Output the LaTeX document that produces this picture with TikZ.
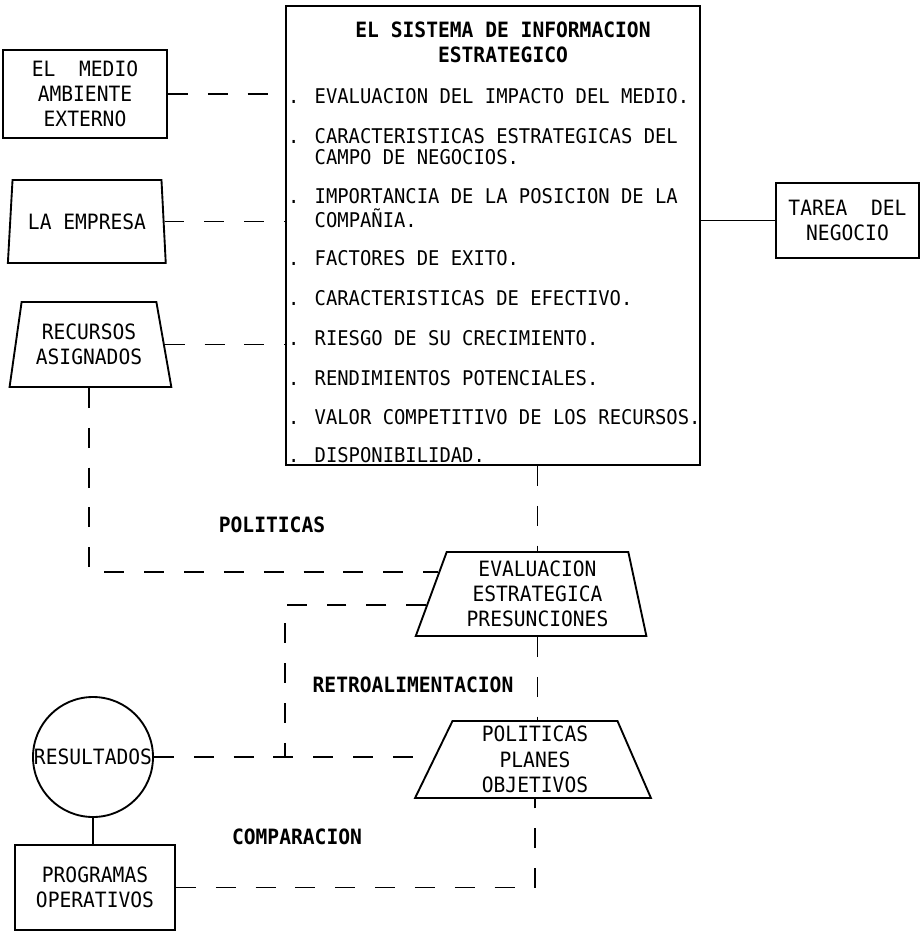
\documentclass[tikz,border=0pt]{standalone}
\usepackage{fontspec}
\newfontfamily\tw[FakeStretch=0.93]{DejaVu Sans Mono}
\usetikzlibrary{shapes.geometric,calc}

\tikzset{
  box/.style={draw, line width=1.6pt, align=center, inner sep=0pt,
    font=\tw\fontsize{18}{21.5}\selectfont},
  trap/.style={box, trapezium, trapezium stretches=true},
  link/.style={line width=1.5pt, dash pattern=on 17pt off 17pt},
  wire/.style={line width=1.5pt},
  lbl/.style={font=\tw\bfseries\fontsize{18}{21.5}\selectfont},
  itm/.style={anchor=base west, inner sep=0pt, font=\tw\fontsize{17.3}{20}\selectfont},
}

\begin{document}
\begin{tikzpicture}[x=0.03cm, y=-0.03cm]
  \useasboundingbox (0,0) rectangle (921,933);

  % strategic information system
  \node[box, minimum width=12.42cm, minimum height=13.77cm] (sis) at (493,235.5) {};
  \node[lbl, align=center] (title) at (503,42.5) {EL SISTEMA DE INFORMACION\\ESTRATEGICO};
  \foreach \y/\t [count=\i] in {
      97/{. EVALUACION DEL IMPACTO DEL MEDIO.},
      137/{. CARACTERISTICAS ESTRATEGICAS DEL},
      158/{\phantom{. }CAMPO DE NEGOCIOS.},
      197/{. IMPORTANCIA DE LA POSICION DE LA},
      220/{\phantom{. }COMPAÑIA.},
      258/{. FACTORES DE EXITO.},
      298/{. CARACTERISTICAS DE EFECTIVO.},
      338/{. RIESGO DE SU CRECIMIENTO.},
      378/{. RENDIMIENTOS POTENCIALES.},
      417/{. VALOR COMPETITIVO DE LOS RECURSOS.},
      455/{. DISPONIBILIDAD.}}
    \node[itm] (item\i) at (288,\y+7) {\t};

  % left column
  \node[box, minimum width=4.92cm, minimum height=2.64cm] (medio) at (85,94) {EL\ \ MEDIO\\AMBIENTE\\EXTERNO};
  \node[trap, minimum width=4.74cm, minimum height=2.49cm,
    trapezium left angle=77, trapezium right angle=78] (emp) at (87,221.5) {LA\ EMPRESA};
  \node[trap, minimum width=4.86cm, minimum height=2.55cm,
    trapezium left angle=77, trapezium right angle=74] (rec) at (89,344.5) {RECURSOS\\ASIGNADOS};
  \node[box, minimum width=4.29cm, minimum height=2.25cm] (tarea) at (847.5,220.5) {TAREA\ \ DEL\\NEGOCIO};

  % lower part
  \node[trap, minimum width=6.93cm, minimum height=2.52cm,
    trapezium left angle=70, trapezium right angle=78] (eval) at (537.5,594) {EVALUACION\\ESTRATEGICA\\PRESUNCIONES};
  \node[trap, minimum width=7.08cm, minimum height=2.31cm,
    trapezium left angle=70, trapezium right angle=72] (pol) at (535,759.5) {POLITICAS\\PLANES\\OBJETIVOS};
  \node[box, circle, minimum size=3.6cm] (res) at (93,757) {RESULTADOS};
  \node[box, minimum width=4.8cm, minimum height=2.55cm] (prog) at (95,887.5) {PROGRAMAS\\OPERATIVOS};

  \node[lbl] (lpol) at (272,525) {POLITICAS};
  \node[lbl] (lretro) at (413,685) {RETROALIMENTACION};
  \node[lbl] (lcomp) at (297,837) {COMPARACION};

  % connectors
  \draw[link] (medio.east) -- (medio.east -| sis.west);
  \draw[link] (emp.east) -- (emp.east -| sis.west);
  \draw[link] (rec.east) -- (rec.east -| sis.west);
  \draw[wire] (sis.east |- tarea.west) -- (tarea.west);
  \draw[link] (eval.north |- sis.south) -- (eval.north);
  \coordinate (evpol) at ($(eval.top left corner)!0.24!(eval.bottom left corner)$);
  \coordinate (evret) at ($(eval.top left corner)!0.63!(eval.bottom left corner)$);
  \draw[link] (rec.south) |- (evpol);
  \draw[link] (evret) -| (sis.west |- res.east);
  \draw[link] (eval.south) -- (eval.south |- pol.north);
  \draw[link] (res.east) -- (res.east -| pol.west);
  \draw[wire] (res.south) -- (res.south |- prog.north);
  \draw[link] (prog.east) -| (pol.south);

\end{tikzpicture}
\end{document}
